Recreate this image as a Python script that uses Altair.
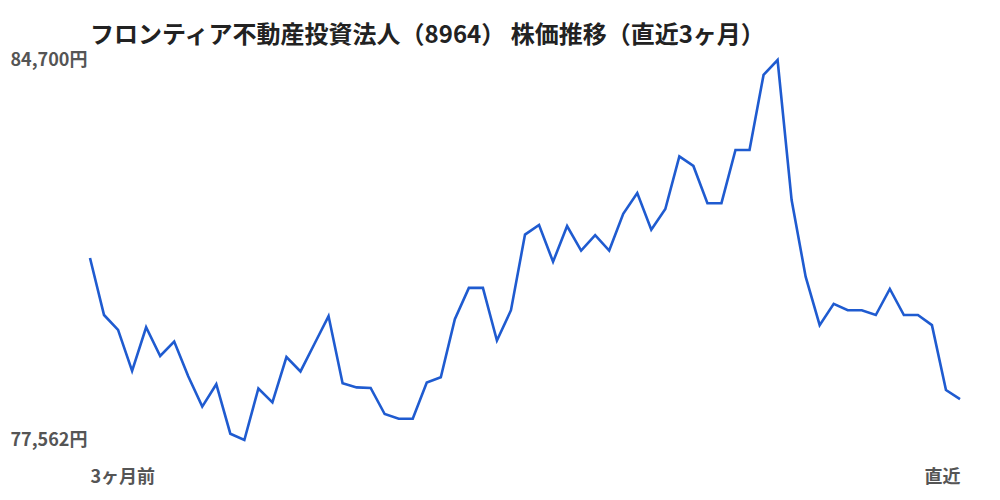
import altair as alt
import pandas as pd

title_text = "フロンティア不動産投資法人（8964） 株価推移（直近3ヶ月）"
start_label = "3ヶ月前"
end_label = "直近"

prices = [
    80980, 79910, 79630, 78860, 79680, 79140, 79410, 78760, 78190, 78610,
    77680, 77562, 78530, 78270, 79120, 78850, 79370, 79890, 78630, 78550,
    78540, 78050, 77960, 77960, 78640, 78740, 79830, 80420, 80420, 79430,
    80000, 81420, 81600, 80910, 81580, 81120, 81410, 81120, 81810, 82200,
    81510, 81900, 82890, 82710, 82010, 82010, 83010, 83010, 84420, 84700,
    82070, 80630, 79720, 80120, 80000, 80000, 79910, 80400, 79910, 79910,
    79720, 78500, 78330,
]
days = list(range(len(prices)))
y_ticks = [min(prices), max(prices)]

df = pd.DataFrame({"day": days, "price": prices})

label_color = "#555555"
font = "Noto Sans CJK JP"

chart = (
    alt.Chart(df)
    .mark_line(color="#1f5bd0", strokeWidth=2.6, strokeJoin="miter")
    .encode(
        x=alt.X(
            "day:Q",
            scale=alt.Scale(domain=[0, len(prices) - 1], nice=False, zero=False),
            axis=alt.Axis(
                values=[0, len(prices) - 1],
                labelExpr=f"datum.value == 0 ? '{start_label}' : '{end_label}'",
                labelFlush=True,
                ticks=False,
                domain=False,
                grid=False,
                title=None,
                labelFont=font,
                labelFontSize=18,
                labelFontWeight="bold",
                labelColor=label_color,
                labelPadding=28,
            ),
        ),
        y=alt.Y(
            "price:Q",
            scale=alt.Scale(domain=y_ticks, nice=False, zero=False),
            axis=alt.Axis(
                values=y_ticks,
                labelExpr="format(datum.value, ',') + '円'",
                labelAlign="left",
                labelPadding=80,
                ticks=False,
                domain=False,
                grid=False,
                title=None,
                labelFont=font,
                labelFontSize=18,
                labelFontWeight="bold",
                labelColor=label_color,
            ),
        ),
    )
    .properties(
        width=870,
        height=380,
        autosize=alt.AutoSizeParams(type="none"),
        padding={"left": 82, "top": 52, "right": 24, "bottom": 56},
        title=alt.TitleParams(
            text=title_text,
            anchor="start",
            frame="group",
            font=font,
            fontSize=24,
            fontWeight="bold",
            color="#222222",
            offset=3,
        ),
    )
    .configure_view(stroke=None)
)

chart.save("out.html", embed_options={"renderer": "svg", "actions": False})
